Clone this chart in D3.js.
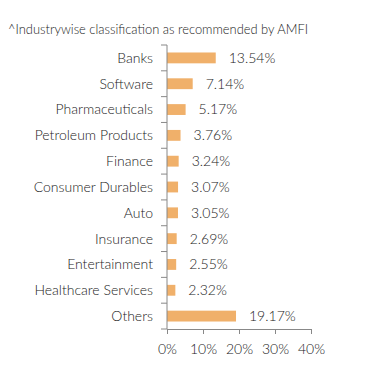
<!DOCTYPE html>
<html><head><meta charset="utf-8">
<script src="https://cdn.jsdelivr.net/npm/d3@7"></script>
<style>body{margin:0;background:#fff}svg{display:block}</style>
</head><body>
<script>
const categories = ["Banks","Software","Pharmaceuticals","Petroleum Products","Finance","Consumer Durables","Auto","Insurance","Entertainment","Healthcare Services","Others"];
const values = [13.54,7.14,5.17,3.76,3.24,3.07,3.05,2.69,2.55,2.32,19.17];
const xTicks = [0,10,20,30,40];
const title = "^Industrywise classification as recommended by AMFI";

const W = 391, H = 382;
const svg = d3.select("body").append("svg").attr("width", W).attr("height", H)
  .style("font-family", "Lato, sans-serif");
const x = d3.scaleLinear().domain([0, 40]).range([167, 311]);
const y = d3.scaleBand().domain(categories).range([45, 329]).paddingInner(0.58).paddingOuter(0.29);

svg.append("text").attr("x", 8).attr("y", 34).attr("font-size", 12.9).attr("fill", "#222")
  .attr("font-weight", 300).text(title);

svg.selectAll("rect.bar").data(categories).join("rect").attr("class","bar")
  .attr("x", x(0)).attr("y", d => y(d))
  .attr("width", (d,i) => x(values[i]) - x(0)).attr("height", y.bandwidth())
  .attr("fill", "#F0B06A");

svg.selectAll("text.val").data(categories).join("text").attr("class","val")
  .attr("x", (d,i) => x(values[i]) + 13).attr("y", d => y(d) + y.bandwidth()/2)
  .attr("dy", "0.35em").attr("font-size", 14).attr("fill", "#222").attr("font-weight", 300)
  .text((d,i) => values[i].toFixed(2) + "%");

const gy = svg.append("g").attr("transform", `translate(${x(0)},0)`);
const bounds = d3.range(categories.length + 1).map(i => 45 + i * (284 / categories.length));
gy.append("line").attr("x1", 0).attr("x2", 0).attr("y1", 45).attr("y2", 329).attr("stroke", "#888");
gy.selectAll("line.t").data(bounds).join("line").attr("class","t")
  .attr("x1", -6).attr("x2", 0).attr("y1", d => d).attr("y2", d => d).attr("stroke", "#888");
gy.selectAll("text").data(categories).join("text")
  .attr("x", -14).attr("y", d => y(d) + y.bandwidth()/2).attr("dy", "0.35em")
  .attr("text-anchor", "end").attr("font-size", 14).attr("fill", "#222").attr("font-weight", 300)
  .text(d => d);

const gx = svg.append("g").attr("transform", `translate(0,329)`)
  .call(d3.axisBottom(x).tickValues(xTicks).tickFormat(d => d + "%").tickSize(5).tickSizeOuter(0).tickPadding(10));
gx.select(".domain").attr("stroke", "#888");
gx.selectAll(".tick line").attr("stroke", "#888");
gx.selectAll(".tick text").attr("font-size", 14).attr("fill", "#222").attr("font-weight", 300)
  .attr("font-family", "Lato, sans-serif");
</script>
</body></html>
